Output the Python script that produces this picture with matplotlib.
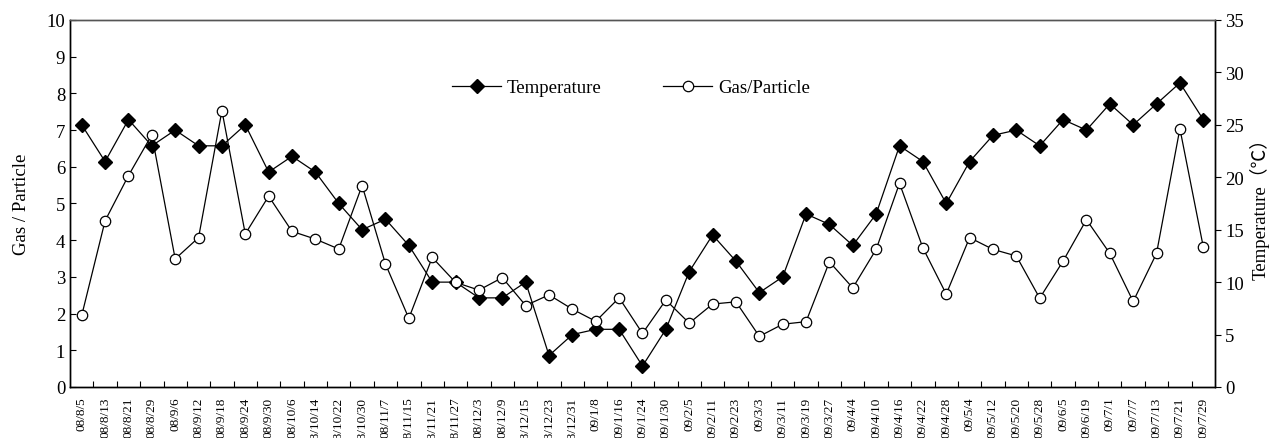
import matplotlib
matplotlib.use("Agg")
import matplotlib.pyplot as plt
from matplotlib.ticker import FixedLocator, NullFormatter

dates = ["08/8/5", "08/8/13", "08/8/21", "08/8/29", "08/9/6", "08/9/12", "08/9/18",
         "08/9/24", "08/9/30", "08/10/6", "08/10/14", "08/10/22", "08/10/30", "08/11/7",
         "08/11/15", "08/11/21", "08/11/27", "08/12/3", "08/12/9", "08/12/15", "08/12/23",
         "08/12/31", "09/1/8", "09/1/16", "09/1/24", "09/1/30", "09/2/5", "09/2/11",
         "09/2/23", "09/3/3", "09/3/11", "09/3/19", "09/3/27", "09/4/4", "09/4/10",
         "09/4/16", "09/4/22", "09/4/28", "09/5/4", "09/5/12", "09/5/20", "09/5/28",
         "09/6/5", "09/6/19", "09/7/1", "09/7/7", "09/7/13", "09/7/21", "09/7/29"]

temperature = [25.0, 21.5, 25.5, 23.0, 24.5, 23.0, 23.0, 25.0, 20.5, 22.0, 20.5, 17.5,
               15.0, 16.0, 13.5, 10.0, 10.0, 8.5, 8.5, 10.0, 3.0, 5.0, 5.5, 5.5, 2.0,
               5.5, 11.0, 14.5, 12.0, 9.0, 10.5, 16.5, 15.5, 13.5, 16.5, 23.0, 21.5,
               17.5, 21.5, 24.0, 24.5, 23.0, 25.5, 24.5, 27.0, 25.0, 27.0, 29.0, 25.5]

gas_particle = [1.95, 4.53, 5.76, 6.87, 3.49, 4.07, 7.53, 4.17, 5.20, 4.24, 4.03, 3.76,
                5.49, 3.35, 1.87, 3.53, 2.85, 2.64, 2.98, 2.22, 2.51, 2.12, 1.79, 2.43,
                1.46, 2.37, 1.74, 2.26, 2.32, 1.38, 1.71, 1.78, 3.41, 2.70, 3.75, 5.55,
                3.79, 2.53, 4.07, 3.75, 3.57, 2.42, 3.43, 4.56, 3.64, 2.33, 3.64, 7.04,
                3.82]

plt.rcParams['font.family'] = ['Liberation Serif', 'Noto Sans CJK SC', 'DejaVu Sans']

fig = plt.figure(figsize=(12.69, 4.39), dpi=100)
ax = fig.add_axes([0.0552, 0.1162, 0.9022, 0.836])
ax2 = ax.twinx()
ax.set_zorder(ax2.get_zorder() + 1)
ax.patch.set_visible(False)

x = list(range(len(dates)))
lt, = ax2.plot(x, temperature, color='black', lw=0.9, marker='D', markersize=7.5,
               markerfacecolor='black', markeredgecolor='black', label='Temperature')
lg, = ax.plot(x, gas_particle, color='black', lw=0.9, marker='o', markersize=7.5,
              markerfacecolor='white', markeredgecolor='black', markeredgewidth=0.9,
              label='Gas/Particle')

ax.set_xlim(-0.5, len(dates) - 0.5)
ax.set_ylim(0, 10)
ax2.set_ylim(0, 35)
ax.set_yticks(range(0, 11))
ax2.set_yticks(range(0, 36, 5))

# category ticks: marks at boundaries, labels at centers
ax.xaxis.set_major_locator(FixedLocator([i + 0.5 for i in range(len(dates) - 1)]))
ax.xaxis.set_major_formatter(NullFormatter())
ax.set_xticks(x, minor=True)
ax.set_xticklabels(dates, minor=True, rotation=90, fontsize=9.5)
ax.tick_params(axis='x', which='major', direction='in', length=4, width=0.8)
ax.tick_params(axis='x', which='minor', length=0, pad=7)
ax.tick_params(axis='y', direction='in', length=4, width=0.8, labelsize=13.5)
ax2.tick_params(axis='y', direction='out', length=4, width=0.8, labelsize=13.5)
ax2.tick_params(axis='x', which='both', length=0)

ax.set_ylabel('Gas / Particle', fontsize=13.5, labelpad=12)
ax2.set_ylabel('Temperature（℃）', fontsize=13.5, labelpad=4)

for a in (ax, ax2):
    for s in a.spines.values():
        s.set_linewidth(1.0)
    a.spines['top'].set_color('#555555')

ax.legend([lt, lg], ['Temperature', 'Gas/Particle'], loc='upper center',
          bbox_to_anchor=(0.49, 0.885), ncol=2, frameon=False, fontsize=13.5,
          handlelength=2.6, columnspacing=3.3, handletextpad=0.3)

fig.savefig('out.png', dpi=100)
